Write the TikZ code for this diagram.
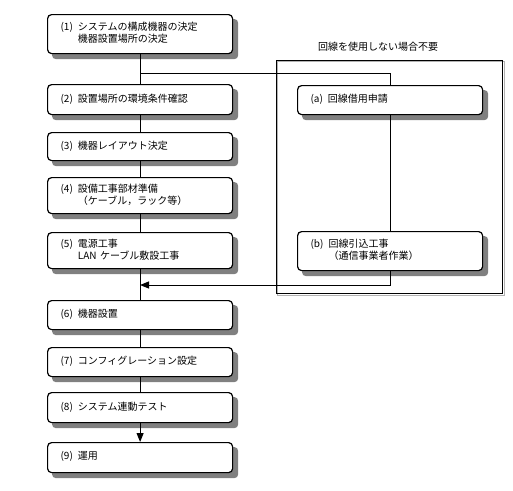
\documentclass[tikz,border=0pt]{standalone}
\usepackage{fontspec}
\newfontfamily\jpfont{Noto Sans CJK JP}
\usetikzlibrary{arrows.meta}
\pgfdeclarelayer{shade}
\pgfsetlayers{shade,main}

% number + indented lines
\newcommand{\steptext}[2]{\begin{tabular}{@{}l@{\hspace{5pt}}l@{}}#1 & \begin{tabular}[t]{@{}l@{}}#2\end{tabular}\end{tabular}}

\begin{document}
\begin{tikzpicture}[x=1pt, y=-1pt, font=\jpfont\fontsize{10}{11.5}\selectfont,
    stepbox/.style={draw, line width=1.2pt, rounded corners=4pt, fill=white,
        anchor=north west, text width=159pt, align=left, inner xsep=13pt, inner ysep=0pt},
    optframe/.style={draw, line width=0.8pt, anchor=north west, inner sep=0pt},
    boxshade/.style={fill=black!50, rounded corners=4pt},
    flow/.style={line width=1pt},
    flowarrow/.style={line width=1pt, -{Triangle[length=9pt, width=7pt]}}]

\useasboundingbox (0,0) rectangle (513,490);

% --- OPTIONAL LINE WORK (right frame) ---
\node[optframe, minimum width=226pt, minimum height=233pt] (optbox) at (276,60) {};
\node (optlabel) at (378,47) {回線を使用しない場合不要};

% --- MAIN STEPS ---
\node[stepbox, minimum height=39pt] (s1) at (47,14) {\steptext{(1)}{システムの構成機器の決定\\機器設置場所の決定}};
\node[stepbox, minimum height=30pt] (s2) at (47,84) {\steptext{(2)}{設置場所の環境条件確認}};
\node[stepbox, minimum height=28pt] (s3) at (47,132) {\steptext{(3)}{機器レイアウト決定}};
\node[stepbox, minimum height=36pt] (s4) at (47,177) {\steptext{(4)}{設備工事部材準備\\（ケーブル，ラック等）}};
\node[stepbox, minimum height=36pt] (s5) at (47,232) {\steptext{(5)}{電源工事\\LAN ケーブル敷設工事}};
\node[stepbox, minimum height=29pt] (s6) at (47,300) {\steptext{(6)}{機器設置}};
\node[stepbox, minimum height=29pt] (s7) at (47,347) {\steptext{(7)}{コンフィグレーション設定}};
\node[stepbox, minimum height=30pt] (s8) at (47,392) {\steptext{(8)}{システム連動テスト}};
\node[stepbox, minimum height=30pt] (s9) at (47,442) {\steptext{(9)}{運用}};

% --- LINE STEPS ---
\node[stepbox, minimum height=29pt] (sa) at (297,85) {\steptext{(a)}{回線借用申請}};
\node[stepbox, minimum height=39pt] (sb) at (297,231) {\steptext{(b)}{回線引込工事\\（通信事業者作業）}};

% --- SHADOWS ---
\begin{pgfonlayer}{shade}
\foreach \n in {s1,s2,s3,s4,s5,s6,s7,s8,s9,sa,sb}
    \fill[boxshade] ([shift={(5,5)}]\n.north west) rectangle ([shift={(5,5)}]\n.south east);
\draw[black!30, line width=0.8pt] ([shift={(1.5,1.5)}]optbox.north west) rectangle ([shift={(1.5,1.5)}]optbox.south east);
\end{pgfonlayer}

% --- CONNECTORS ---
\coordinate (split) at (140,73);
\coordinate (merge) at (140,285);

\foreach \i [count=\j from 2] in {1,...,7}
    \draw[flow] (s\i.south) -- (s\j.north);
\draw[flowarrow] (s8.south) -- (s9.north);

\draw[flow] (split) -| (sa.north);
\draw[flow] (sa.south) -- (sb.north);
\draw[flowarrow] (sb.south) |- (merge);

\end{tikzpicture}
\end{document}
